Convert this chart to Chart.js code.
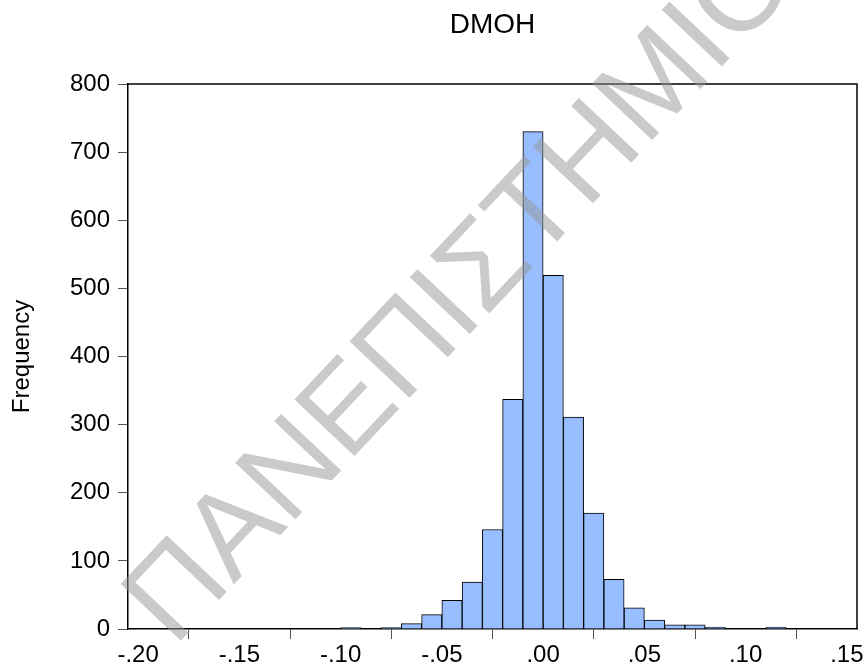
<!DOCTYPE html>
<html><head><meta charset="utf-8">
<script src="https://cdn.jsdelivr.net/npm/chart.js@4"></script>
<style>html,body{margin:0;padding:0;background:#fff}#wrap{width:867px;height:668px}</style>
</head><body><div id="wrap"><canvas id="c" width="867" height="668"></canvas></div>
<script>
const chartTitle = 'DMOH';
const yAxisLabel = 'Frequency';
const binStarts = [-0.10,-0.09,-0.08,-0.07,-0.06,-0.05,-0.04,-0.03,-0.02,-0.01,0.00,0.01,0.02,0.03,0.04,0.05,0.06,0.07,0.08,0.09,0.10,0.11];
const frequencies = [2,0,2,8,21,42,69,146,337,730,519,311,170,73,31,13,6,6,3,0,0,3];
const binWidth = 0.01;
const xTickValues = [-0.20,-0.15,-0.10,-0.05,0.00,0.05,0.10,0.15];
const yTickValues = [0,100,200,300,400,500,600,700,800];
const watermarkText = 'ΠΑΝΕΠΙΣΤΗΜΙΟ ΠΕΙΡΑΙΩΣ';

const FONT = "'Liberation Sans', Arial, sans-serif";

const points = binStarts.map((b, i) => ({x: b + binWidth / 2, y: frequencies[i]}));

function fmtX(v) {
  let s = Math.abs(v) < 1e-9 ? '0.00' : v.toFixed(2);
  return s.replace('0.', '.');
}

const framePlugin = {
  id: 'frame',
  afterDatasetsDraw(chart) {
    const {ctx, chartArea: a} = chart;
    ctx.save();
    ctx.strokeStyle = '#000';
    ctx.lineWidth = 1.5;
    ctx.beginPath();
    ctx.moveTo(a.left, a.top);
    ctx.lineTo(a.right, a.top);
    ctx.lineTo(a.right, a.bottom);
    ctx.stroke();
    ctx.restore();
  }
};

const watermarkPlugin = {
  id: 'watermark',
  afterDraw(chart) {
    const ctx = chart.ctx;
    ctx.save();
    ctx.translate(150, 625);
    ctx.rotate(-46.7 * Math.PI / 180);
    ctx.font = "120px " + FONT;
    ctx.textBaseline = 'middle';
    ctx.textAlign = 'left';
    ctx.fillStyle = 'rgba(150,150,150,0.5)';
    ctx.fillText(watermarkText, 0, 0);
    ctx.restore();
  }
};

new Chart(document.getElementById('c'), {
  type: 'bar',
  data: {
    datasets: [{
      data: points,
      backgroundColor: 'rgb(153,190,255)',
      borderColor: '#000',
      borderWidth: 1,
      categoryPercentage: 1,
      barPercentage: 1
    }]
  },
  options: {
    responsive: false,
    animation: false,
    devicePixelRatio: 1,
    layout: {padding: {left: 0, right: 10, top: 0, bottom: 0}},
    plugins: {
      legend: {display: false},
      tooltip: {enabled: false},
      title: {
        display: true,
        text: chartTitle,
        fullSize: false,
        color: '#000',
        font: {family: FONT, size: 28, weight: 'normal', lineHeight: 1.2},
        padding: {top: 8, bottom: 42.4}
      }
    },
    scales: {
      x: {
        type: 'linear',
        min: -0.205,
        max: 0.155,
        offset: false,
        afterFit(s) { s.height = 39; },
        afterBuildTicks(s) { s.ticks = xTickValues.map(v => ({value: v})); },
        ticks: {
          includeBounds: false,
          autoSkip: false,
          maxRotation: 0,
          color: '#000',
          padding: 2,
          font: {family: FONT, size: 24},
          callback: (v) => fmtX(v)
        },
        grid: {drawOnChartArea: false, drawTicks: true, tickLength: 10, tickColor: '#555'},
        border: {display: true, color: '#000', width: 1.5}
      },
      y: {
        type: 'linear',
        min: 0,
        max: 800,
        afterFit(s) { s.width = 128; },
        afterBuildTicks(s) { s.ticks = yTickValues.map(v => ({value: v})); },
        ticks: {
          autoSkip: false,
          color: '#000',
          padding: 8,
          font: {family: FONT, size: 24}
        },
        title: {
          display: true,
          text: yAxisLabel,
          color: '#000',
          font: {family: FONT, size: 24, lineHeight: 1.2},
          padding: {top: 8, bottom: 0}
        },
        grid: {drawOnChartArea: false, drawTicks: true, tickLength: 10, tickColor: '#555'},
        border: {display: true, color: '#000', width: 1.5}
      }
    }
  },
  plugins: [framePlugin, watermarkPlugin]
});
</script>
</body></html>
